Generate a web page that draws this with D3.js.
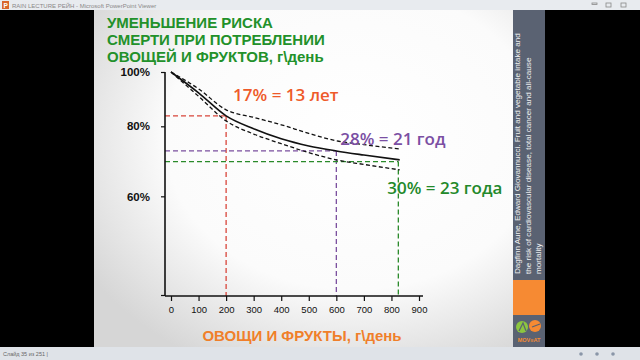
<!DOCTYPE html>
<html>
<head>
<meta charset="utf-8">
<script src="https://cdn.jsdelivr.net/npm/d3@7"></script>
<style>
  html, body { margin: 0; padding: 0; background: #000; }
  svg { display: block; }
</style>
</head>
<body>
<div id="chart"></div>
<script>
// dose grid (g/day) and relative risk of all-cause mortality
const doses   = [0, 100, 200, 300, 400, 500, 600, 700, 830];
const rrMain  = [1.00, 0.918, 0.835, 0.792, 0.760, 0.738, 0.723, 0.711, 0.697];
const rrUpper = [1.00, 0.933, 0.856, 0.830, 0.805, 0.777, 0.754, 0.742, 0.729];
const rrLower = [1.00, 0.905, 0.818, 0.775, 0.745, 0.718, 0.697, 0.684, 0.669];

const xTicks = [0, 100, 200, 300, 400, 500, 600, 700, 800, 900];
const yTicks = [1.0, 0.8, 0.6, 0.4];
const yTickLabels = ['100%', '80%', '60%', ''];

const markDoses  = [200, 600, 825];
const markRR     = [0.835, 0.723, 0.692];
const markLabels = ['17% = 13 лет', '28% = 21 год', '30% = 23 года'];
const markColors = ['#d8453a', '#7a4f9e', '#2a8a2a'];
const labelColors = ['#ee5a2a', '#7b4fa3', '#23892a'];

const titleLines = ['УМЕНЬШЕНИЕ  РИСКА', 'СМЕРТИ ПРИ ПОТРЕБЛЕНИИ', 'ОВОЩЕЙ И ФРУКТОВ, г\\день'];
const xTitle = 'ОВОЩИ И ФРУКТЫ, г\\день';
const sourceLines = [
  'Dagfinn Aune, Edward Giovannucci. Fruit and vegetable intake and',
  'the risk of cardiovascular disease, total cancer and all-cause',
  'mortality'
];

const W = 640, H = 360;
const svg = d3.select('#chart').append('svg').attr('width', W).attr('height', H);
const defs = svg.append('defs');

// window + slide background
svg.append('rect').attr('width', W).attr('height', H).attr('fill', '#000');

const grad = defs.append('radialGradient').attr('id', 'slidebg')
  .attr('cx', '62%').attr('cy', '38%').attr('r', '75%');
grad.append('stop').attr('offset', '0%').attr('stop-color', '#ffffff');
grad.append('stop').attr('offset', '60%').attr('stop-color', '#fbfbfb');
grad.append('stop').attr('offset', '100%').attr('stop-color', '#d6d6d6');

svg.append('rect').attr('x', 94).attr('y', 10).attr('width', 419).attr('height', 337)
  .attr('fill', 'url(#slidebg)');

// title bar
svg.append('rect').attr('x', 0).attr('y', 0).attr('width', W).attr('height', 10).attr('fill', '#e8ebef');
svg.append('rect').attr('x', 2).attr('y', 1).attr('width', 7).attr('height', 8).attr('fill', '#d9652b');
svg.append('text').attr('x', 3.5).attr('y', 7.8).attr('font-size', 6.5).attr('fill', '#fff')
  .attr('font-family', 'Liberation Sans, sans-serif').attr('font-weight', 'bold').text('P');
svg.append('text').attr('x', 12).attr('y', 7.5).attr('font-size', 6)
  .attr('font-family', 'Liberation Sans, sans-serif').attr('fill', '#888')
  .text('RAIN LECTURE PEЙН - Microsoft PowerPoint Viewer');
[592, 606, 621].forEach((bx, i) => {
  svg.append('rect').attr('x', bx).attr('y', 3).attr('width', 5).attr('height', i === 0 ? 1.5 : 4)
    .attr('fill', 'none').attr('stroke', '#888').attr('stroke-width', 0.8);
});

// status bar
svg.append('rect').attr('x', 0).attr('y', 347).attr('width', W).attr('height', 13).attr('fill', '#dfe3e8');
svg.append('text').attr('x', 3).attr('y', 356).attr('font-size', 5.5)
  .attr('font-family', 'Liberation Sans, sans-serif').attr('fill', '#666').text('Слайд 35 из 251  |');
[581, 597, 613].forEach(bx => {
  svg.append('circle').attr('cx', bx).attr('cy', 354).attr('r', 1.8).attr('fill', '#8a96a8');
});

// sidebar
svg.append('rect').attr('x', 513).attr('y', 10).attr('width', 32).attr('height', 270).attr('fill', '#5a6272');
svg.append('rect').attr('x', 513).attr('y', 280).attr('width', 32).attr('height', 35).attr('fill', '#f68a33');
svg.append('rect').attr('x', 513).attr('y', 315).attr('width', 32).attr('height', 32).attr('fill', '#5a6272');
svg.append('circle').attr('cx', 522).attr('cy', 327).attr('r', 6).attr('fill', '#8cc63f');
svg.append('circle').attr('cx', 535).attr('cy', 326).attr('r', 6).attr('fill', '#f68a33');
svg.append('path').attr('d', 'M519,331 L523,323 L526,331').attr('fill', 'none').attr('stroke', '#5a6272').attr('stroke-width', 1.2);
svg.append('path').attr('d', 'M532,327 L540,324').attr('stroke', '#5a6272').attr('stroke-width', 1.2);
svg.append('text').attr('x', 529).attr('y', 342).attr('text-anchor', 'middle').attr('font-size', 5.5)
  .attr('font-weight', 'bold').attr('font-family', 'Liberation Sans, sans-serif').attr('fill', '#f68a33')
  .text('MOV≡AT');

const side = svg.append('g').attr('clip-path', 'url(#sideclip)');
defs.append('clipPath').attr('id', 'sideclip').append('rect')
  .attr('x', 513).attr('y', 10).attr('width', 32).attr('height', 270);
sourceLines.forEach((t, i) => {
  side.append('text')
    .attr('transform', `translate(${520 + i * 10.5},274) rotate(-90)`)
    .attr('font-size', 8.1).attr('font-family', 'Liberation Sans, sans-serif')
    .attr('fill', '#f2f2f2').text(t);
});

// title
titleLines.forEach((t, i) => {
  svg.append('text').attr('x', 107).attr('y', 28 + i * 17)
    .attr('font-family', 'Liberation Sans, Arial, sans-serif').attr('font-weight', 'bold')
    .attr('font-size', 15).attr('fill', '#22912a').text(t);
});

// scales
const x = d3.scaleLinear().domain([0, 900]).range([171, 419]);
const y = d3.scaleLog().domain([0.4, 1]).range([295, 72]);
const axisX0 = 165, axisY0 = 296;

// reference dashed lines
markDoses.forEach((d, i) => {
  const g = svg.append('g').attr('stroke', markColors[i]).attr('stroke-width', 1.3)
    .attr('stroke-dasharray', '5,3').attr('fill', 'none');
  g.append('line').attr('x1', axisX0).attr('x2', x(d)).attr('y1', y(markRR[i])).attr('y2', y(markRR[i]));
  g.append('line').attr('x1', x(d)).attr('x2', x(d)).attr('y1', y(markRR[i])).attr('y2', axisY0);
});

// curves
const line = d3.line().x((d, i) => x(doses[i])).y(d => y(d)).curve(d3.curveMonotoneX);
svg.append('path').attr('d', line(rrUpper)).attr('fill', 'none').attr('stroke', '#111')
  .attr('stroke-width', 1.3).attr('stroke-dasharray', '4,2.5');
svg.append('path').attr('d', line(rrLower)).attr('fill', 'none').attr('stroke', '#111')
  .attr('stroke-width', 1.3).attr('stroke-dasharray', '4,2.5');
svg.append('path').attr('d', line(rrMain)).attr('fill', 'none').attr('stroke', '#111')
  .attr('stroke-width', 1.6);

// y axis
const yAxis = d3.axisLeft(y).tickValues(yTicks).tickFormat((d, i) => yTickLabels[i])
  .tickSize(4).tickSizeOuter(0).tickPadding(11);
const gy = svg.append('g').attr('transform', `translate(${axisX0},0)`).call(yAxis);
gy.select('.domain').remove();
gy.selectAll('text').attr('font-family', 'Liberation Sans, Arial, sans-serif')
  .attr('font-weight', 'bold').attr('font-size', 11.5).attr('fill', '#111');
gy.selectAll('line').attr('stroke', '#111').attr('stroke-width', 1.2);
svg.append('line').attr('x1', axisX0).attr('x2', axisX0).attr('y1', y(1)).attr('y2', axisY0)
  .attr('stroke', '#111').attr('stroke-width', 1.6);

// x axis
const xAxis = d3.axisBottom(x).tickValues(xTicks).tickSize(5).tickSizeOuter(0).tickPadding(5);
const gx = svg.append('g').attr('transform', `translate(0,${axisY0})`).call(xAxis);
gx.select('.domain').remove();
gx.selectAll('line').attr('stroke', '#111').attr('stroke-width', 1.2);
gx.selectAll('text').attr('font-family', 'Liberation Sans Narrow, Arial Narrow, Liberation Sans, sans-serif')
  .attr('font-size', 9.5).attr('fill', '#111');
svg.append('line').attr('x1', axisX0).attr('x2', x(900) + 4).attr('y1', axisY0).attr('y2', axisY0)
  .attr('stroke', '#111').attr('stroke-width', 1.6);

svg.append('text').attr('x', (x(0) + x(900)) / 2 + 7).attr('y', 341).attr('text-anchor', 'middle')
  .attr('font-family', 'Liberation Sans, Arial, sans-serif').attr('font-weight', 'bold')
  .attr('font-size', 15).attr('fill', '#f07f2a').text(xTitle);

// annotation labels
const labelOffsets = [[7, -15], [4, -6], [-11, 32]];
markDoses.forEach((d, i) => {
  svg.append('text').attr('x', x(d) + labelOffsets[i][0]).attr('y', y(markRR[i]) + labelOffsets[i][1])
    .attr('font-family', 'Open Sans, Lato, sans-serif').attr('font-weight', 600)
    .attr('font-size', 17).attr('fill', labelColors[i]).text(markLabels[i]);
});
</script>
</body>
</html>
